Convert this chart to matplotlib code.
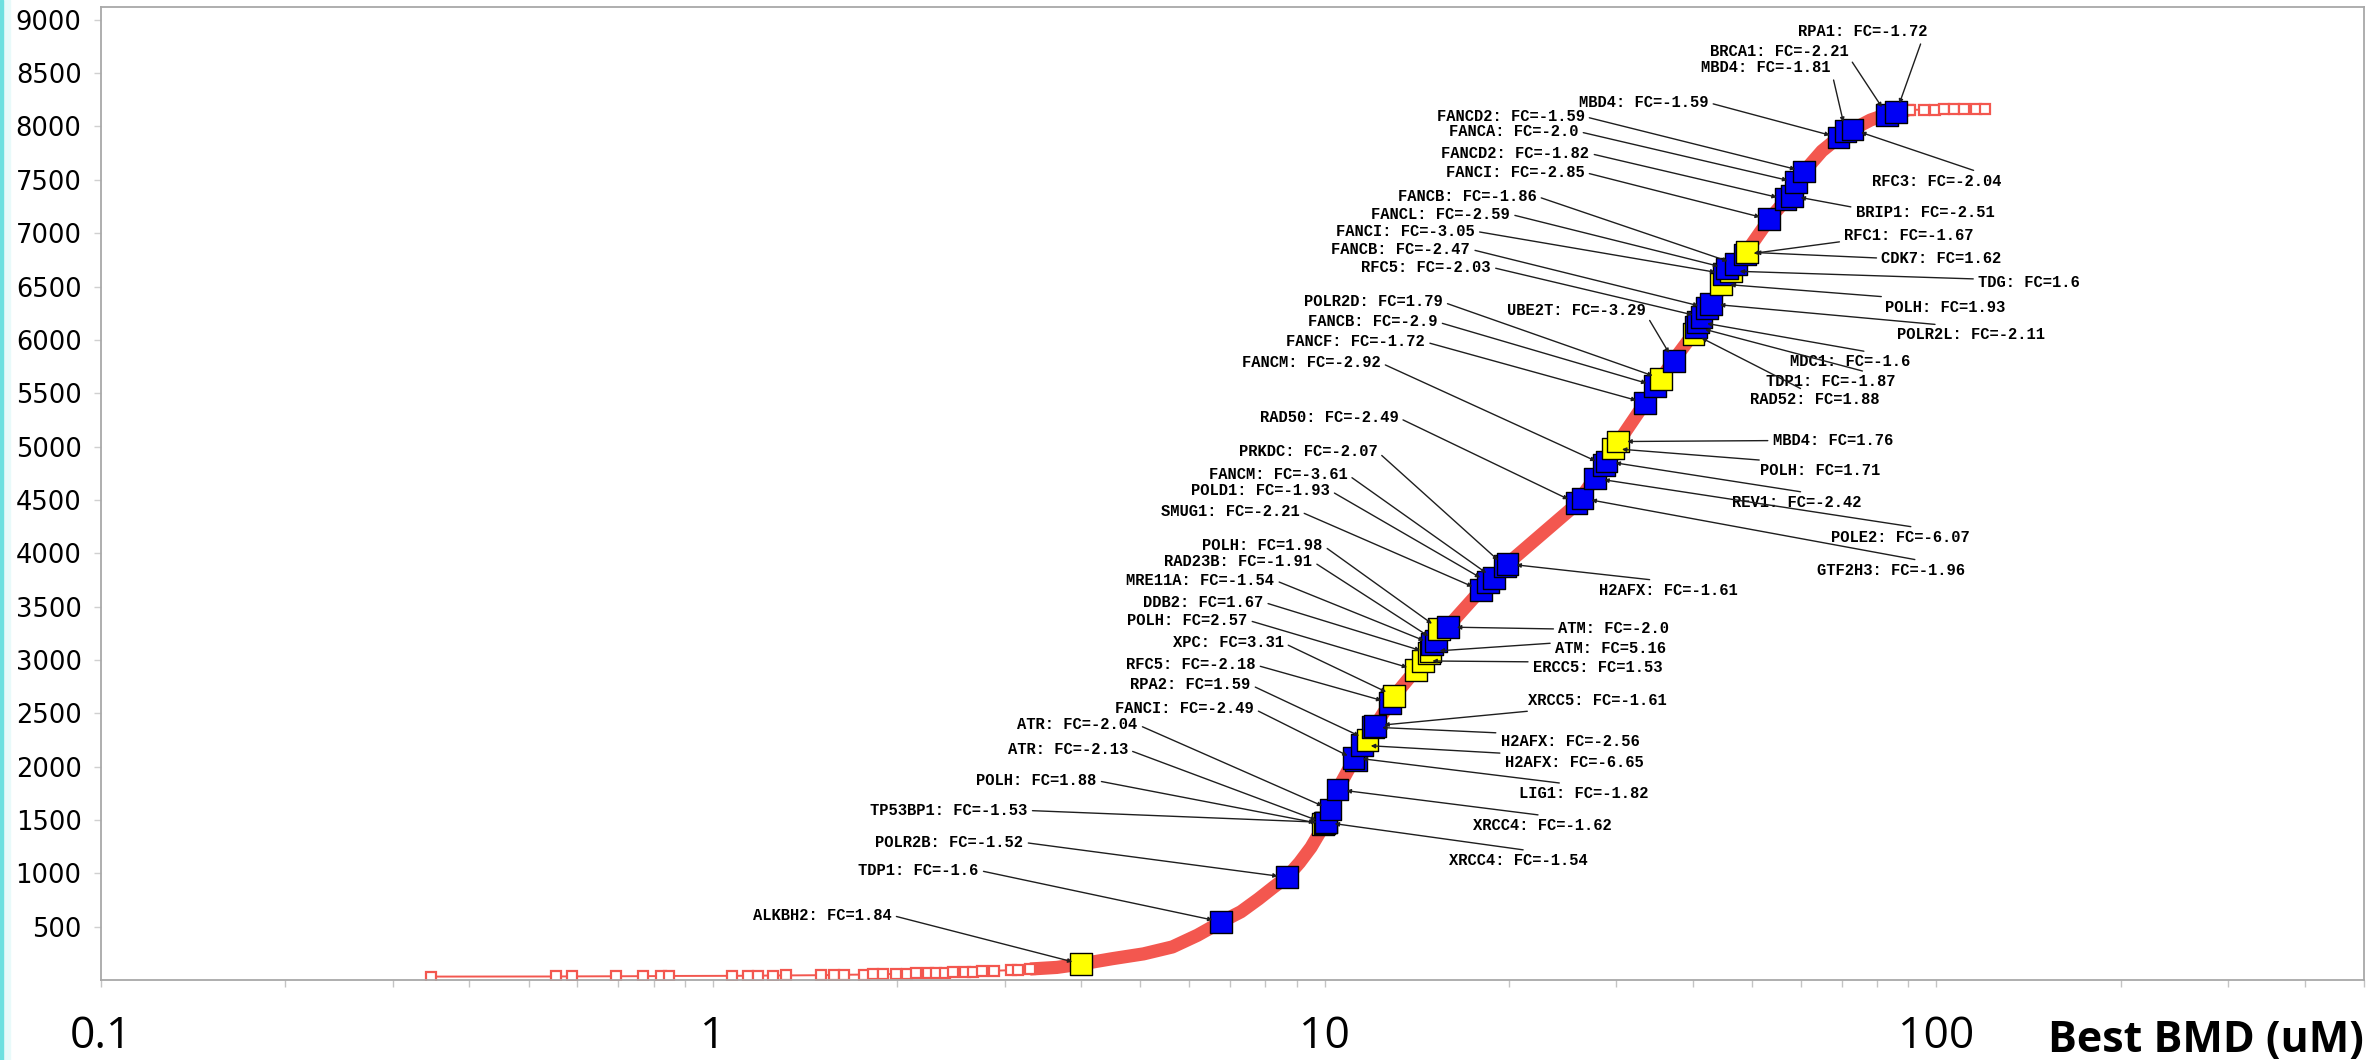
import matplotlib
matplotlib.use("Agg")
import matplotlib.pyplot as plt
from matplotlib.patches import Rectangle
from matplotlib.ticker import LogLocator, NullFormatter

# ---- data ------------------------------------------------------------------
# sparse low-BMD genes (hollow squares), then the dense cumulative curve
tail_bmd = [0.346, 0.554, 0.588, 0.694, 0.769, 0.822, 0.847, 1.074, 1.141, 1.184,
            1.253, 1.316, 1.501, 1.577, 1.637, 1.765, 1.825, 1.896, 1.991, 2.075,
            2.146, 2.245, 2.314, 2.393, 2.467, 2.58, 2.66, 2.75, 2.88, 3.07, 3.16]
tail_count = [32, 33, 34, 35, 36, 37, 38, 39, 40, 41, 42, 43, 45, 47, 49, 51, 53,
              55, 57, 59, 61, 64, 67, 70, 73, 76, 79, 83, 87, 92, 97]

curve_bmd = [3.3, 3.65, 4.0, 4.5, 5.06, 5.64, 6.2, 6.78, 7.3, 7.8, 8.25, 8.67, 9.1,
             9.5, 10.04, 10.5, 11.2, 12.1, 13.0, 14.5, 15.9, 18.0, 19.7, 22.5, 25.7,
             27.7, 29.7, 33.4, 35.5, 37.2, 40.1, 42.8, 44.7, 47.1, 49.0, 53.3, 56.7,
             60.8, 65.0, 69.2, 72.9, 78.0, 84.0, 90.0]
curve_count = [103, 118, 150, 200, 245, 310, 420, 545, 640, 760, 870, 963, 1100,
               1243, 1477, 1785, 2080, 2383, 2664, 2991, 3310, 3654, 3880, 4165, 4450,
               4710, 4980, 5410, 5640, 5810, 6060, 6336, 6510, 6710, 6830, 7130, 7310,
               7580, 7770, 7897, 7972, 8060, 8125, 8155]

# high-BMD genes past the plateau (hollow squares)
head_bmd = [90.6, 95.6, 99.3, 103.0, 107.0, 111.0, 116.0, 120.0]
head_count = [8156, 8158, 8159, 8160, 8161, 8162, 8163, 8164]

# highlighted DNA repair genes
genes = ["RPA1", "BRCA1", "MBD4", "MBD4", "FANCD2", "FANCA", "FANCD2", "FANCI",
         "FANCB", "FANCL", "FANCI", "FANCB", "RFC5", "POLR2D", "FANCB", "FANCF",
         "FANCM", "RAD50", "PRKDC", "FANCM", "POLD1", "SMUG1", "POLH", "RAD23B",
         "MRE11A", "DDB2", "POLH", "XPC", "RFC5", "RPA2", "FANCI", "ATR", "ATR",
         "POLH", "TP53BP1", "POLR2B", "TDP1", "ALKBH2",
         "RFC3", "BRIP1", "RFC1", "CDK7", "TDG", "POLH", "POLR2L", "UBE2T", "MDC1",
         "TDP1", "RAD52", "MBD4", "POLH", "REV1", "POLE2", "GTF2H3", "H2AFX", "ATM",
         "ATM", "ERCC5", "XRCC5", "H2AFX", "H2AFX", "LIG1", "XRCC4", "XRCC4"]
fold_change = [-1.72, -2.21, -1.81, -1.59, -1.59, -2.0, -1.82, -2.85,
               -1.86, -2.59, -3.05, -2.47, -2.03, 1.79, -2.9, -1.72,
               -2.92, -2.49, -2.07, -3.61, -1.93, -2.21, 1.98, -1.91,
               -1.54, 1.67, 2.57, 3.31, -2.18, 1.59, -2.49, -2.04, -2.13,
               1.88, -1.53, -1.52, -1.6, 1.84,
               -2.04, -2.51, -1.67, 1.62, 1.6, 1.93, -2.11, -3.29, -1.6,
               -1.87, 1.88, 1.76, 1.71, -2.42, -6.07, -1.96, -1.61, -2.0,
               5.16, 1.53, -1.61, -2.56, -6.65, -1.82, -1.62, -1.54]
gene_bmd = [86.0, 83.0, 71.0, 69.2, 60.8, 59.0, 56.7, 53.2,
            47.1, 45.5, 45.0, 42.2, 41.3, 35.5, 34.7, 33.4,
            28.6, 25.8, 19.7, 18.9, 18.5, 18.0, 15.4, 15.2,
            15.0, 14.8, 14.1, 13.0, 12.8, 11.75, 11.24, 10.23, 10.0,
            9.95, 10.04, 8.67, 6.78, 4.0,
            72.9, 58.0, 48.6, 49.0, 46.1, 44.5, 42.8, 37.2, 40.8,
            40.5, 40.1, 30.2, 29.6, 28.9, 27.7, 26.4, 19.9, 15.9,
            14.9, 14.5, 12.1, 12.0, 11.5, 11.15, 10.5, 10.04]
gene_count = [8135, 8110, 7960, 7897, 7579, 7477, 7318, 7131,
              6710, 6670, 6620, 6300, 6215, 5636, 5570, 5411,
              4830, 4470, 3879, 3766, 3730, 3654, 3290, 3178,
              3150, 3065, 2907, 2664, 2598, 2252, 2065, 1598, 1470,
              1460, 1477, 963, 545, 150,
              7972, 7350, 6800, 6822, 6645, 6523, 6336, 5804, 6168,
              6120, 6056, 5047, 4981, 4860, 4701, 4514, 3900, 3308,
              3080, 2991, 2383, 2370, 2200, 2084, 1785, 1477]

x_ticks = [0.1, 1, 10, 100]
x_tick_labels = ["0.1", "1", "10", "100"]
y_ticks = [500, 1000, 1500, 2000, 2500, 3000, 3500, 4000, 4500,
           5000, 5500, 6000, 6500, 7000, 7500, 8000, 8500, 9000]

# ---- label placement: (text x, text y, alignment, line anchor on text box) ----
label_layout = [
    (96.7, 8888, "right", (0.96, 0.0)), (71.8, 8701, "right", (1, 0.2)),
    (67.1, 8551, "right", (1, 0.6)), (42.4, 8224, "right", (1, 0.5)),
    (26.6, 8093, "right", (1, 0.5)), (26.0, 7953, "right", (1, 0.5)),
    (27.1, 7748, "right", (1, 0.5)), (26.6, 7570, "right", (1, 0.5)),
    (22.2, 7346, "right", (1, 0.5)), (20.1, 7178, "right", (1, 0.5)),
    (17.6, 7019, "right", (1, 0.5)), (17.3, 6850, "right", (1, 0.5)),
    (18.7, 6682, "right", (1, 0.5)), (15.6, 6355, "right", (1, 0.5)),
    (15.3, 6168, "right", (1, 0.5)), (14.6, 5981, "right", (1, 0.5)),
    (12.35, 5785, "right", (1, 0.5)), (13.2, 5271, "right", (1, 0.5)),
    (12.2, 4953, "right", (1, 0.5)), (10.9, 4738, "right", (1, 0.5)),
    (10.2, 4589, "right", (1, 0.5)), (9.1, 4393, "right", (1, 0.5)),
    (9.93, 4075, "right", (1, 0.5)), (9.55, 3925, "right", (1, 0.5)),
    (8.28, 3748, "right", (1, 0.5)), (7.94, 3542, "right", (1, 0.5)),
    (7.48, 3374, "right", (1, 0.5)), (8.57, 3159, "right", (1, 0.5)),
    (7.71, 2953, "right", (1, 0.5)), (7.57, 2766, "right", (1, 0.5)),
    (7.66, 2542, "right", (1, 0.5)), (4.95, 2393, "right", (1, 0.5)),
    (4.77, 2159, "right", (1, 0.5)), (4.24, 1869, "right", (1, 0.5)),
    (3.27, 1589, "right", (1, 0.5)), (3.22, 1290, "right", (1, 0.5)),
    (2.72, 1028, "right", (1, 0.5)), (1.96, 607, "right", (1, 0.5)),
    (78.6, 7486, "left", (0.86, 1)), (73.8, 7196, "left", (0, 0.8)),
    (70.7, 6981, "left", (0, 0.1)), (81.3, 6766, "left", (0, 0.5)),
    (117.0, 6542, "left", (0, 0.7)), (82.5, 6308, "left", (0.28, 1)),
    (86.1, 6047, "left", (0.48, 1)), (33.5, 6271, "right", (1, 0.3)),
    (57.7, 5794, "left", (0.76, 1)), (52.7, 5607, "left", (0.84, 1)),
    (49.5, 5439, "left", (0.45, 1)), (54.0, 5056, "left", (0, 0.5)),
    (51.4, 4776, "left", (0.31, 1)), (46.4, 4477, "left", (0.68, 1)),
    (67.3, 4150, "left", (0.72, 1)), (63.7, 3841, "left", (0.78, 1)),
    (28.1, 3654, "left", (0.56, 1)), (24.1, 3290, "left", (0, 0.5)),
    (23.8, 3103, "left", (0, 0.9)), (21.9, 2925, "left", (0.07, 0.9)),
    (21.5, 2617, "left", (0.22, 0)), (19.4, 2234, "left", (0.18, 1)),
    (19.7, 2037, "left", (0.23, 1)), (20.8, 1748, "left", (0.5, 1)),
    (17.5, 1449, "left", (0.64, 1)), (16.0, 1121, "left", (0.69, 1)),
]

RED = "#F3574F"
BLUE = "#0000F5"
YELLOW = "#FFFF00"

fig = plt.figure(figsize=(23.72, 10.6), dpi=100)
ax = fig.add_axes([0.04258, 0.07547, 0.95405, 0.91792])
ax.set_xscale("log")

# cumulative curve
ax.plot(curve_bmd, curve_count, color=RED, lw=9.5, solid_capstyle="butt", zorder=2)
ax.plot(tail_bmd + curve_bmd[:1], tail_count + curve_count[:1], color=RED, lw=1.4,
        marker="s", ms=7, mfc="white", mec=RED, mew=1.6, zorder=2)
ax.plot(curve_bmd[-1:] + head_bmd, curve_count[-1:] + head_count, color=RED, lw=1.4,
        marker="s", ms=7, mfc="white", mec=RED, mew=1.6, zorder=2)

# highlighted genes, lower ranks drawn first
order = sorted(range(len(genes)), key=lambda i: gene_count[i])
ax.scatter([gene_bmd[i] for i in order], [gene_count[i] for i in order],
           marker="s", s=245,
           c=[YELLOW if fold_change[i] > 0 else BLUE for i in order],
           edgecolors="black", linewidths=1.0, zorder=3)

for i, gene in enumerate(genes):
    tx, ty, ha, rp = label_layout[i]
    ax.annotate(f"{gene}: FC={fold_change[i]}", xy=(gene_bmd[i], gene_count[i]),
                xytext=(tx, ty), ha=ha, va="center",
                fontfamily="Liberation Mono", fontweight="bold", fontsize=11.2,
                arrowprops=dict(arrowstyle="-|>", color="#1e1e1e", lw=1.0,
                                shrinkA=1.5, shrinkB=6.5, mutation_scale=6, relpos=rp),
                zorder=4)

ax.set_xlim(0.1, 500)
ax.set_ylim(0, 9120)

ax.set_xticks(x_ticks)
ax.set_xticklabels(x_tick_labels)
ax.xaxis.set_minor_locator(LogLocator(base=10, subs=[2, 3, 4, 5, 6, 7, 8, 9]))
ax.xaxis.set_minor_formatter(NullFormatter())
ax.set_yticks(y_ticks)
ax.set_yticklabels([str(v) for v in y_ticks])

ax.tick_params(axis="x", which="both", direction="out", color="#c4c4c4",
               length=5, width=1, pad=20, labelsize=32)
ax.tick_params(axis="y", direction="out", color="#d0d0d0", length=5, width=1,
               pad=9, labelsize=18.5)
for lbl in ax.get_xticklabels():
    lbl.set_fontfamily("Open Sans")

for sp in ax.spines.values():
    sp.set_color("#a8a8a8")
    sp.set_linewidth(1.3)

fig.text(2364 / 2372, 8 / 1060, "Best BMD (uM)", ha="right", va="baseline",
         fontsize=31, fontweight="bold", fontfamily="Open Sans")

# thin cyan strip along the left edge of the slide
fig.patches.append(Rectangle((0, 0), 10 / 2372, 1, transform=fig.transFigure,
                             color="#e8fafa", zorder=0))
fig.patches.append(Rectangle((0, 0), 3 / 2372, 1, transform=fig.transFigure,
                             color="#6ee0e0", zorder=0))

fig.savefig("out.png", dpi=100, facecolor="white")
